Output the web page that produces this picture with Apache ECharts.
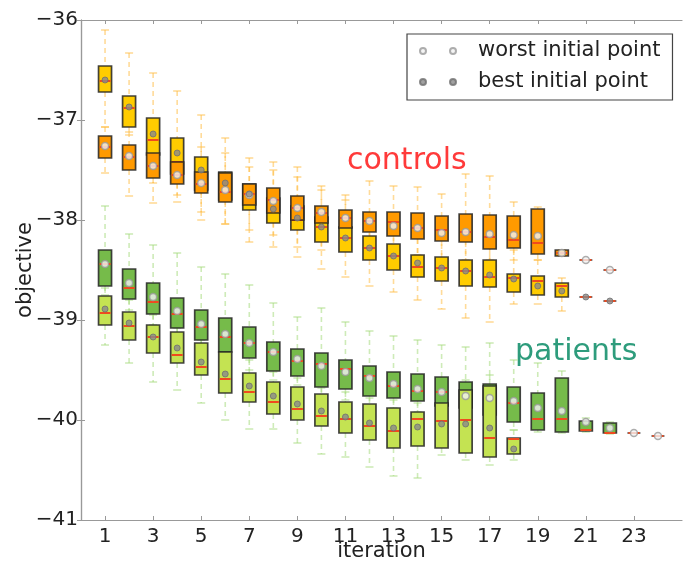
<!DOCTYPE html>
<html>
<head>
<meta charset="utf-8">
<script src="https://cdn.jsdelivr.net/npm/echarts@6/dist/echarts.min.js"></script>
<style>
html, body { margin: 0; padding: 0; background: #fff; }
#main { width: 683px; height: 564px; }
</style>
</head>
<body>
<div id="main"></div>
<script>
// tick labels on the x axis
var tickIters = [1, 3, 5, 7, 9, 11, 13, 15, 17, 19, 21, 23];

// rows: [iteration, lower whisker, Q1, median, Q3, upper whisker, mean]
var controlsWorst = [
    [1, -37.53, -37.38, -37.27, -37.16, -37.07, -37.26],
    [2, -37.76, -37.50, -37.37, -37.25, -37.12, -37.36],
    [3, -37.83, -37.58, -37.46, -37.33, -37.15, -37.46],
    [4, -37.82, -37.64, -37.55, -37.42, -37.25, -37.55],
    [5, -38.00, -37.73, -37.64, -37.52, -37.27, -37.63],
    [6, -38.04, -37.82, -37.72, -37.53, -37.33, -37.70],
    [7, -38.10, -37.85, -37.74, -37.64, -37.47, -37.75],
    [8, -38.15, -37.93, -37.80, -37.68, -37.42, -37.81],
    [9, -38.27, -38.00, -37.88, -37.76, -37.57, -37.88],
    [10, -38.30, -38.03, -37.93, -37.86, -37.70, -37.92],
    [11, -38.30, -38.08, -37.98, -37.90, -37.75, -37.98],
    [12, -38.30, -38.12, -38.01, -37.92, -37.61, -38.01],
    [13, -38.35, -38.16, -38.02, -37.92, -37.66, -38.06],
    [14, -38.35, -38.19, -38.08, -37.93, -37.67, -38.08],
    [15, -38.38, -38.21, -38.10, -37.96, -37.74, -38.13],
    [16, -38.40, -38.22, -38.12, -37.94, -37.54, -38.12],
    [17, -38.40, -38.29, -38.17, -37.95, -37.56, -38.14],
    [18, -38.40, -38.28, -38.20, -37.96, -37.82, -38.15],
    [19, -38.40, -38.34, -38.23, -37.89, -37.87, -38.16],
    [20, -38.36, -38.36, -38.33, -38.30, -38.30, -38.33],
    [21, -38.40, -38.40, -38.40, -38.40, -38.40, -38.40],
    [22, -38.50, -38.50, -38.50, -38.50, -38.50, -38.50]
];
var controlsBest = [
    [1, -37.07, -36.72, -36.61, -36.46, -36.10, -36.60],
    [2, -37.15, -37.07, -36.88, -36.76, -36.33, -36.87],
    [3, -37.63, -37.35, -37.20, -36.98, -36.53, -37.14],
    [4, -37.75, -37.54, -37.42, -37.18, -36.71, -37.33],
    [5, -37.92, -37.70, -37.55, -37.37, -36.95, -37.50],
    [6, -38.04, -37.80, -37.69, -37.52, -37.18, -37.63],
    [7, -38.22, -37.90, -37.77, -37.64, -37.38, -37.74],
    [8, -38.27, -38.03, -37.92, -37.78, -37.50, -37.89],
    [9, -38.37, -38.10, -38.00, -37.86, -37.47, -37.98],
    [10, -38.49, -38.22, -38.07, -37.97, -37.66, -38.07],
    [11, -38.57, -38.32, -38.18, -38.07, -37.80, -38.18],
    [12, -38.66, -38.40, -38.28, -38.16, -37.95, -38.28],
    [13, -38.72, -38.50, -38.36, -38.24, -38.00, -38.36],
    [14, -38.80, -38.57, -38.47, -38.35, -38.10, -38.43],
    [15, -38.89, -38.61, -38.48, -38.37, -38.15, -38.48],
    [16, -38.98, -38.66, -38.51, -38.40, -38.20, -38.51],
    [17, -39.02, -38.67, -38.57, -38.40, -38.25, -38.55],
    [18, -38.84, -38.72, -38.58, -38.54, -38.30, -38.59],
    [19, -38.84, -38.75, -38.61, -38.56, -38.40, -38.66],
    [20, -38.91, -38.77, -38.66, -38.63, -38.58, -38.71],
    [21, -38.77, -38.77, -38.77, -38.77, -38.77, -38.77],
    [22, -38.81, -38.81, -38.81, -38.81, -38.81, -38.81]
];
var patientsWorst = [
    [1, -38.75, -38.66, -38.44, -38.30, -37.86, -38.44],
    [2, -38.90, -38.79, -38.68, -38.49, -38.14, -38.63],
    [3, -39.05, -38.94, -38.82, -38.63, -38.25, -38.77],
    [4, -39.15, -39.08, -38.94, -38.78, -38.33, -38.91],
    [5, -39.25, -39.20, -39.07, -38.90, -38.47, -39.04],
    [6, -39.40, -39.32, -39.17, -38.98, -38.54, -39.14],
    [7, -39.50, -39.38, -39.23, -39.07, -38.65, -39.23],
    [8, -39.60, -39.51, -39.32, -39.22, -38.83, -39.32],
    [9, -39.65, -39.56, -39.41, -39.29, -38.97, -39.39],
    [10, -39.75, -39.67, -39.44, -39.33, -38.88, -39.46],
    [11, -39.80, -39.69, -39.49, -39.40, -39.02, -39.52],
    [12, -39.85, -39.76, -39.56, -39.46, -39.11, -39.58],
    [13, -39.88, -39.78, -39.66, -39.52, -39.16, -39.64],
    [14, -39.92, -39.81, -39.71, -39.54, -39.20, -39.69],
    [15, -39.95, -39.86, -39.72, -39.57, -39.25, -39.72],
    [16, -39.98, -39.88, -39.75, -39.62, -39.27, -39.76],
    [17, -40.05, -39.95, -39.75, -39.64, -39.23, -39.78],
    [18, -40.10, -40.02, -39.83, -39.67, -39.40, -39.81],
    [19, -40.12, -40.10, -39.99, -39.73, -39.43, -39.88],
    [20, -40.13, -40.12, -39.99, -39.58, -39.51, -39.91],
    [21, -40.12, -40.11, -40.10, -40.01, -39.98, -40.02],
    [22, -40.14, -40.13, -40.13, -40.03, -40.02, -40.08],
    [23, -40.13, -40.13, -40.13, -40.13, -40.13, -40.13],
    [24, -40.16, -40.16, -40.16, -40.16, -40.16, -40.16]
];
var patientsBest = [
    [1, -39.25, -39.05, -38.93, -38.76, -38.68, -38.89],
    [2, -39.43, -39.20, -39.06, -38.92, -38.80, -39.03],
    [3, -39.62, -39.33, -39.17, -39.05, -38.95, -39.17],
    [4, -39.70, -39.43, -39.35, -39.12, -39.08, -39.28],
    [5, -39.83, -39.55, -39.47, -39.23, -39.20, -39.42],
    [6, -40.00, -39.73, -39.59, -39.32, -39.30, -39.54],
    [7, -40.09, -39.82, -39.72, -39.53, -39.40, -39.66],
    [8, -40.09, -39.94, -39.82, -39.62, -39.52, -39.76],
    [9, -40.23, -40.00, -39.89, -39.67, -39.58, -39.84],
    [10, -40.34, -40.06, -39.96, -39.74, -39.68, -39.91],
    [11, -40.37, -40.13, -39.99, -39.82, -39.72, -39.97],
    [12, -40.47, -40.20, -40.06, -39.84, -39.78, -40.03],
    [13, -40.56, -40.28, -40.11, -39.88, -39.80, -40.08],
    [14, -40.58, -40.26, -39.99, -39.92, -39.83, -40.07],
    [15, -40.35, -40.28, -40.01, -39.83, -39.60, -40.04],
    [16, -40.40, -40.33, -40.00, -39.70, -39.60, -40.04],
    [17, -40.45, -40.37, -40.18, -39.66, -39.55, -40.08],
    [18, -40.40, -40.34, -40.19, -40.18, -40.10, -40.29]
];

var FONT = 'DejaVu Sans';
var myChart = echarts.init(document.getElementById('main'));

function minus(v) {
    return v < 0 ? '\u2212' + Math.abs(v) : String(v);
}

// dashed whiskers with short solid caps
function whiskerItem(color) {
    return function (params, api) {
        var x = api.value(0);
        var lo = api.coord([x, api.value(1)]);
        var q1 = api.coord([x, api.value(2)]);
        var q3 = api.coord([x, api.value(4)]);
        var hi = api.coord([x, api.value(5)]);
        var cx = lo[0], cw = 4;
        var dash = {stroke: color, lineWidth: 1.6, lineDash: [5, 4]};
        var cap = {stroke: color, lineWidth: 1.6};
        return {
            type: 'group',
            children: [
                {type: 'line', shape: {x1: cx, y1: hi[1], x2: cx, y2: q3[1]}, style: dash},
                {type: 'line', shape: {x1: cx, y1: q1[1], x2: cx, y2: lo[1]}, style: dash},
                {type: 'line', shape: {x1: cx - cw, y1: hi[1], x2: cx + cw, y2: hi[1]}, style: cap},
                {type: 'line', shape: {x1: cx - cw, y1: lo[1], x2: cx + cw, y2: lo[1]}, style: cap}
            ]
        };
    };
}

// box from Q1 to Q3 with a red median line
function boxItem(fill) {
    return function (params, api) {
        var x = api.value(0);
        var q1 = api.coord([x, api.value(2)]);
        var md = api.coord([x, api.value(3)]);
        var q3 = api.coord([x, api.value(4)]);
        var cx = q1[0], hw = 6.5;
        return {
            type: 'group',
            children: [
                {type: 'rect', shape: {x: cx - hw, y: q3[1], width: hw * 2, height: q1[1] - q3[1]},
                    style: {fill: fill, stroke: 'rgba(35,35,35,0.85)', lineWidth: 1.7}},
                {type: 'line', shape: {x1: cx - hw + 1, y1: md[1], x2: cx + hw - 1, y2: md[1]},
                    style: {stroke: '#F04A1E', lineWidth: 2}}
            ]
        };
    };
}

function whiskerSeries(data, color) {
    return {type: 'custom', data: data, renderItem: whiskerItem(color), z: 1,
        encode: {x: 0, y: [1, 5]}, silent: true};
}
function boxSeries(data, fill) {
    return {type: 'custom', data: data, renderItem: boxItem(fill), z: 2,
        encode: {x: 0, y: [2, 4]}, silent: true};
}
function meanData(rows) {
    return rows.map(function (r) { return [r[0], r[6]]; });
}

var worstStyle = {color: '#f2f2f2', borderColor: '#9a9a9a', borderWidth: 1.5};
var bestStyle = {color: '#8a8a8a', borderColor: '#6f6f6f', borderWidth: 1};
var twoDots = 'path://M0,3A3,3,0,1,1,6,3A3,3,0,1,1,0,3Z M30,3A3,3,0,1,1,36,3A3,3,0,1,1,30,3Z';

var option = {
    animation: false,
    backgroundColor: '#fff',
    textStyle: {fontFamily: FONT},
    grid: {left: 81, right: 1, top: 20, bottom: 44, containLabel: false, outerBoundsMode: 'none'},
    legend: {
        orient: 'vertical',
        left: 407,
        top: 34,
        padding: [6, 12, 7, 12],
        itemGap: 9,
        itemWidth: 36,
        itemHeight: 6,
        borderColor: '#444',
        borderWidth: 1.2,
        borderRadius: 0,
        data: [
            {name: 'worst initial point', icon: twoDots},
            {name: 'best initial point', icon: twoDots}
        ],
        textStyle: {fontSize: 21, color: '#222', fontFamily: FONT, lineHeight: 22, padding: [0, 0, 0, 17]}
    },
    xAxis: [{
        type: 'value',
        min: 0,
        max: 25,
        position: 'bottom',
        name: 'iteration',
        nameLocation: 'middle',
        nameGap: 21,
        nameMoveOverlap: false,
        nameTextStyle: {fontSize: 21, color: '#222', fontFamily: FONT},
        axisLine: {show: true, lineStyle: {color: '#999', width: 1.2}},
        axisTick: {show: true, inside: true, length: 4, customValues: tickIters, lineStyle: {color: '#999'}},
        axisLabel: {fontSize: 20, color: '#222', margin: 7, customValues: tickIters, fontFamily: FONT},
        splitLine: {show: false}
    }, {
        type: 'value',
        min: 0,
        max: 25,
        position: 'top',
        axisLine: {show: true, lineStyle: {color: '#999', width: 1.2}},
        axisTick: {show: true, inside: true, length: 4, customValues: tickIters, lineStyle: {color: '#999'}},
        axisLabel: {show: false},
        splitLine: {show: false}
    }],
    yAxis: [{
        type: 'value',
        min: -41,
        max: -36,
        interval: 1,
        position: 'left',
        name: 'objective',
        nameLocation: 'middle',
        nameGap: 45,
        nameMoveOverlap: false,
        nameRotate: 90,
        nameTextStyle: {fontSize: 21, color: '#222', fontFamily: FONT},
        axisLine: {show: true, lineStyle: {color: '#999', width: 1.2}},
        axisTick: {show: true, inside: true, length: 4, lineStyle: {color: '#999'}},
        axisLabel: {fontSize: 20, color: '#222', margin: 3, formatter: minus, fontFamily: FONT},
        splitLine: {show: false}
    }, {
        type: 'value',
        min: -41,
        max: -36,
        interval: 1,
        position: 'right',
        axisLine: {show: true, lineStyle: {color: '#999', width: 1.2}},
        axisTick: {show: true, inside: true, length: 4, lineStyle: {color: '#999'}},
        axisLabel: {show: false},
        splitLine: {show: false}
    }],
    graphic: [
        {type: 'text', x: 347, y: 161, style: {text: 'controls', fill: '#FF3A3A',
            font: '30px "DejaVu Sans"', verticalAlign: 'middle', align: 'left'}},
        {type: 'text', x: 515, y: 352, style: {text: 'patients', fill: '#2E9C7C',
            font: '30px "DejaVu Sans"', verticalAlign: 'middle', align: 'left'}}
    ],
    series: [
        whiskerSeries(controlsBest, 'rgba(255,190,70,0.55)'),
        whiskerSeries(controlsWorst, 'rgba(255,190,70,0.55)'),
        whiskerSeries(patientsWorst, 'rgba(165,218,125,0.55)'),
        whiskerSeries(patientsBest, 'rgba(165,218,125,0.55)'),
        boxSeries(controlsBest, '#FFCC00'),
        boxSeries(controlsWorst, '#FF9A00'),
        boxSeries(patientsWorst, '#76BB4A'),
        boxSeries(patientsBest, '#C4E352'),
        {name: 'worst initial point', type: 'scatter', data: meanData(controlsWorst), symbolSize: 7, itemStyle: worstStyle, z: 3},
        {name: 'best initial point', type: 'scatter', data: meanData(controlsBest), symbolSize: 6, itemStyle: bestStyle, z: 3},
        {name: 'worst initial point', type: 'scatter', data: meanData(patientsWorst), symbolSize: 7, itemStyle: worstStyle, z: 3},
        {name: 'best initial point', type: 'scatter', data: meanData(patientsBest), symbolSize: 6, itemStyle: bestStyle, z: 3}
    ]
};

myChart.setOption(option);
</script>
</body>
</html>
